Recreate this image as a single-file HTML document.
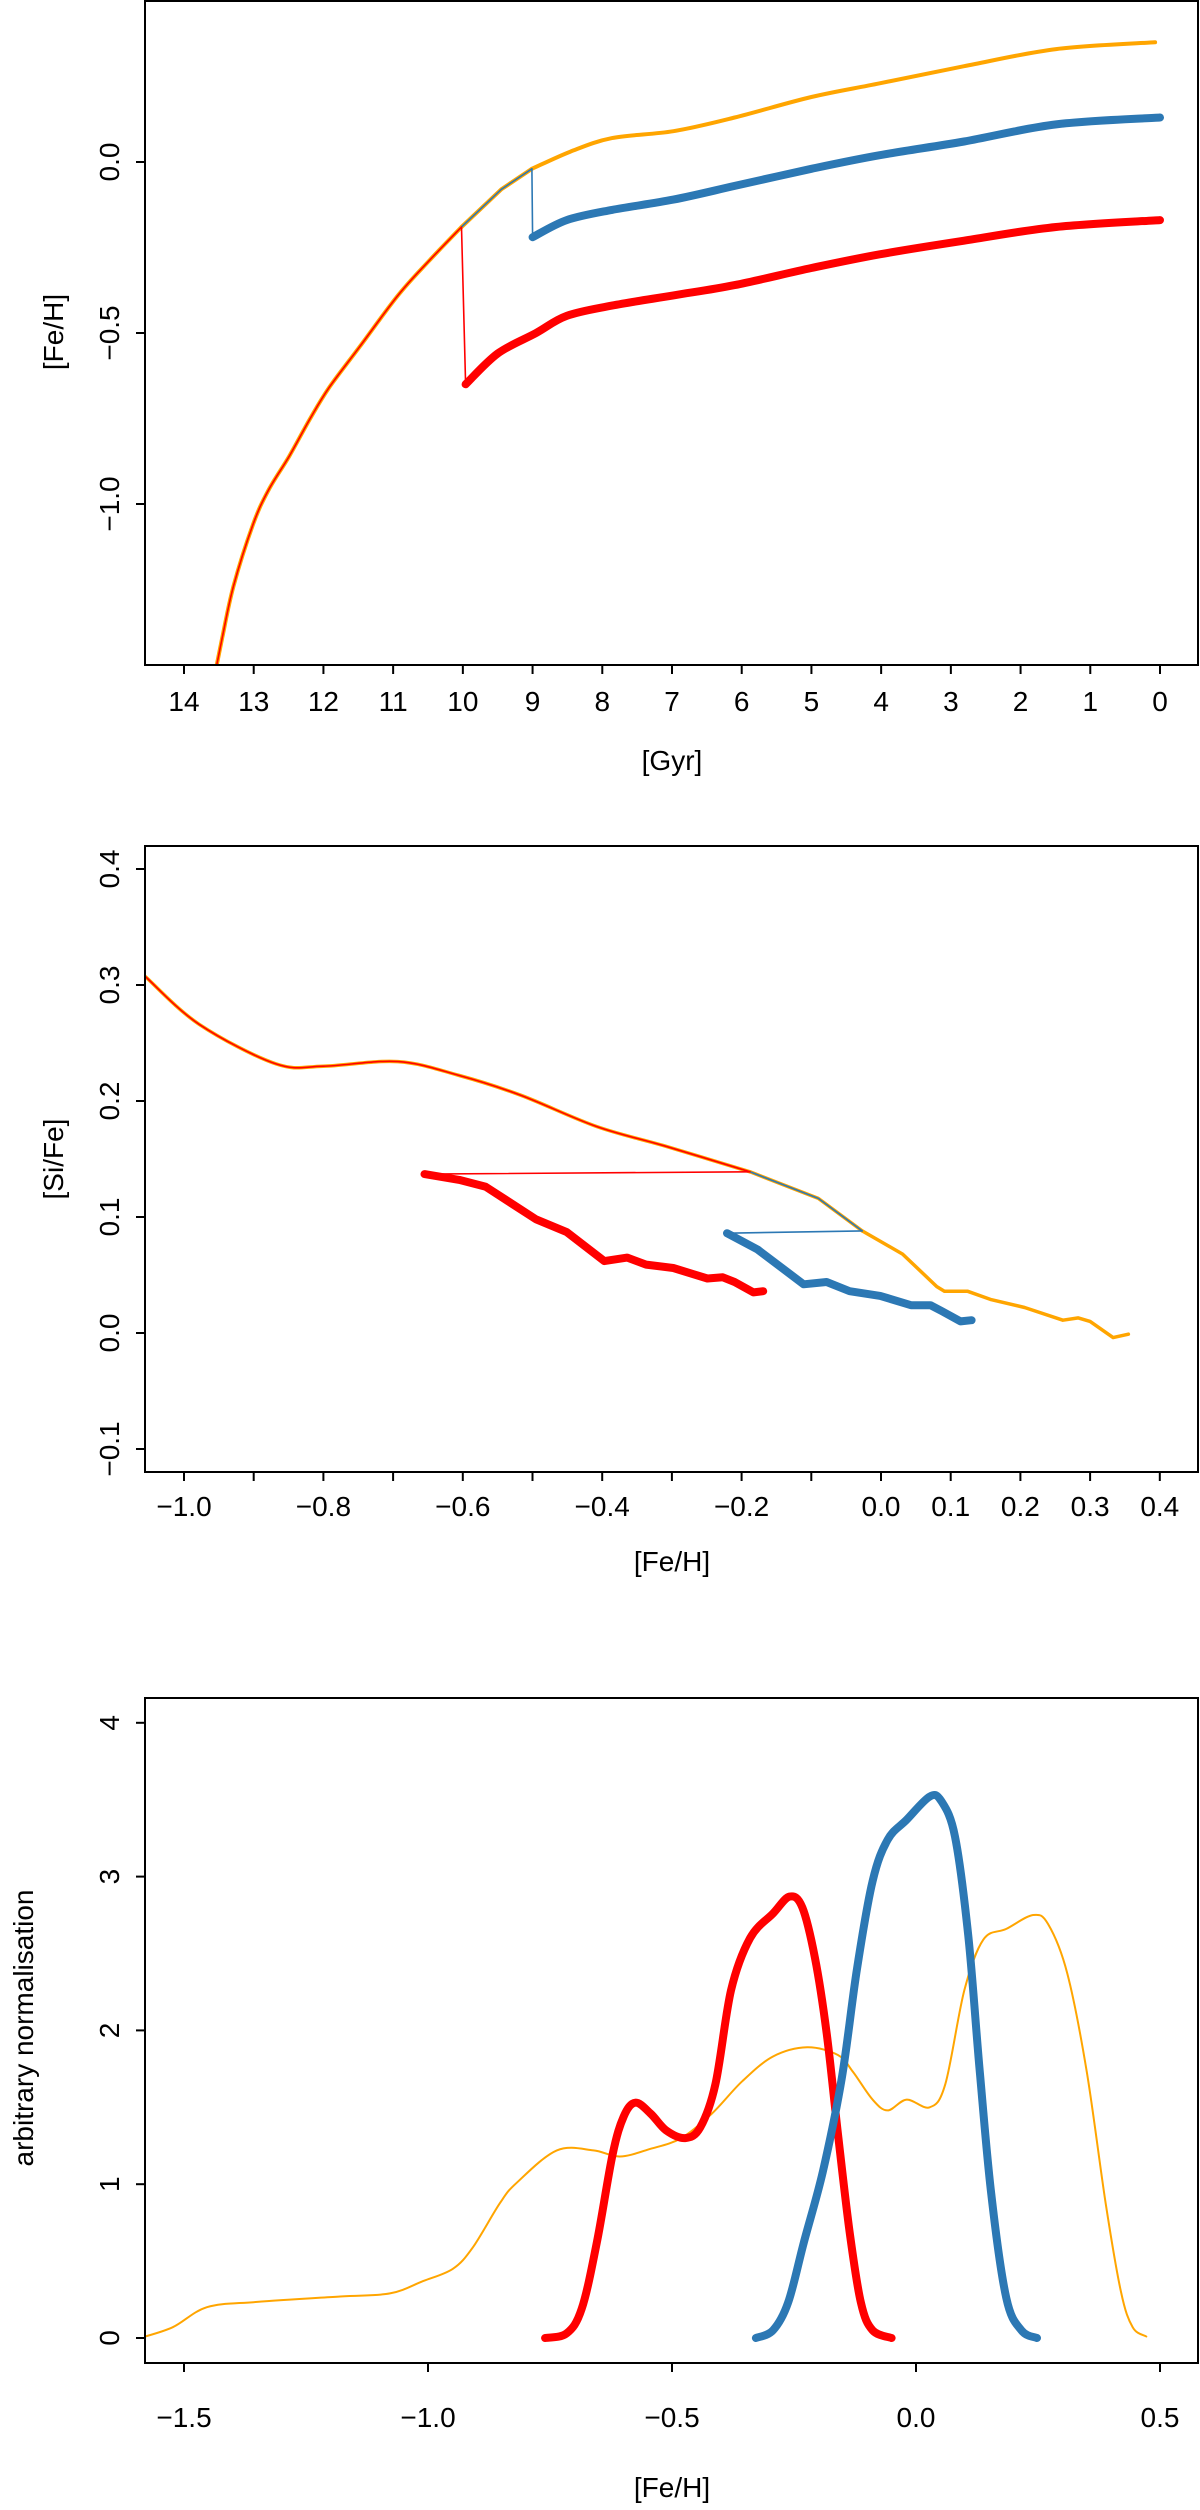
<!DOCTYPE html>
<html><head><meta charset="utf-8">
<style>
html,body{margin:0;padding:0;background:#fff;}
svg{display:block;}
text{font-family:"Liberation Sans",Arial,sans-serif;fill:#000;}
</style></head>
<body>
<svg id="fig" width="1200" height="2510" viewBox="0 0 1200 2510" xmlns="http://www.w3.org/2000/svg"></svg>
<script>
// ---------- Panel 1 data: [Fe/H] vs age [Gyr] ----------
const p1EarlyAge = [13.53,13.45,13.29,13.01,12.79,12.49,12.19,11.92,11.48,10.93,10.49,10.02];
const p1EarlyFe  = [-1.47,-1.39,-1.24,-1.06,-0.96,-0.86,-0.75,-0.66,-0.54,-0.39,-0.29,-0.19];
const p1MidAge = [10.02,9.45,9.01];
const p1MidFe  = [-0.19,-0.08,-0.02];
const p1OrangeAge = [9.01,8.46,7.86,6.98,6.1,5.0,4.02,2.81,1.49,0.07];
const p1OrangeFe  = [-0.02,0.03,0.07,0.09,0.13,0.19,0.23,0.28,0.33,0.35];
const p1BlueAge = [9.0,8.51,7.86,6.98,6.1,5.0,4.02,2.81,1.49,0.0];
const p1BlueFe  = [-0.22,-0.17,-0.14,-0.11,-0.07,-0.02,0.02,0.06,0.11,0.13];
const p1RedAge = [9.96,9.5,8.95,8.51,7.86,6.98,6.1,5.0,4.02,2.81,1.49,0.0];
const p1RedFe  = [-0.65,-0.56,-0.50,-0.45,-0.42,-0.39,-0.36,-0.31,-0.27,-0.23,-0.19,-0.17];
const p1XTicks = [14,13,12,11,10,9,8,7,6,5,4,3,2,1,0];
const p1YTicks = [0.0,-0.5,-1.0];
const p1YLabels = ["0.0","\u22120.5","\u22121.0"];

// ---------- Panel 2 data: [Si/Fe] vs [Fe/H] ----------
const p2EarlyFe = [-1.055,-0.978,-0.868,-0.80,-0.693,-0.605,-0.517,-0.408,-0.309,-0.188];
const p2EarlySi = [0.307,0.266,0.232,0.230,0.234,0.222,0.205,0.178,0.161,0.139];
const p2MidFe = [-0.188,-0.09,-0.027];
const p2MidSi = [0.139,0.116,0.088];
const p2OrangeFe = [-0.027,0.031,0.08,0.091,0.124,0.157,0.206,0.261,0.283,0.30,0.333,0.355];
const p2OrangeSi = [0.088,0.068,0.040,0.036,0.036,0.029,0.022,0.011,0.013,0.010,-0.004,-0.001];
const p2RedFe = [-0.655,-0.605,-0.567,-0.495,-0.451,-0.397,-0.364,-0.337,-0.298,-0.249,-0.227,-0.210,-0.183,-0.169];
const p2RedSi = [0.137,0.132,0.126,0.098,0.087,0.062,0.065,0.059,0.056,0.047,0.048,0.044,0.035,0.036];
const p2BlueFe = [-0.221,-0.177,-0.111,-0.078,-0.045,-0.001,0.043,0.071,0.087,0.114,0.13];
const p2BlueSi = [0.086,0.072,0.042,0.044,0.036,0.032,0.024,0.024,0.019,0.010,0.011];
const p2XTicks = [-1.0,-0.9,-0.8,-0.7,-0.6,-0.5,-0.4,-0.3,-0.2,-0.1,0.0,0.1,0.2,0.3,0.4];
const p2XLabVals = [-1.0,-0.8,-0.6,-0.4,-0.2,0.0,0.1,0.2,0.3,0.4];
const p2XLabels = ["\u22121.0","\u22120.8","\u22120.6","\u22120.4","\u22120.2","0.0","0.1","0.2","0.3","0.4"];
const p2YTicks = [0.4,0.3,0.2,0.1,0.0,-0.1];
const p2YLabels = ["0.4","0.3","0.2","0.1","0.0","\u22120.1"];

// ---------- Panel 3 data: distributions ----------
const p3OrangeFe = [-1.59,-1.523,-1.453,-1.35,-1.18,-1.078,-1.01,-0.949,-0.908,-0.852,-0.818,-0.736,-0.661,-0.607,-0.544,-0.481,-0.418,-0.356,-0.293,-0.223,-0.16,-0.129,-0.089,-0.058,-0.019,0.028,0.06,0.099,0.138,0.185,0.24,0.271,0.31,0.35,0.389,0.42,0.444,0.472];
const p3OrangeN  = [0,0.07,0.20,0.235,0.27,0.29,0.37,0.45,0.59,0.88,1.01,1.22,1.22,1.18,1.23,1.30,1.46,1.67,1.83,1.89,1.84,1.73,1.55,1.48,1.55,1.50,1.65,2.26,2.59,2.66,2.75,2.69,2.37,1.73,0.87,0.30,0.07,0.01];
const p3RedFe = [-0.76,-0.716,-0.685,-0.654,-0.622,-0.599,-0.575,-0.544,-0.512,-0.473,-0.442,-0.411,-0.379,-0.34,-0.293,-0.259,-0.233,-0.207,-0.183,-0.16,-0.136,-0.113,-0.089,-0.05];
const p3RedN  = [0,0.03,0.19,0.62,1.19,1.44,1.53,1.46,1.35,1.30,1.37,1.65,2.26,2.60,2.76,2.87,2.80,2.47,1.98,1.33,0.69,0.23,0.05,0];
const p3BlueFe = [-0.328,-0.293,-0.262,-0.23,-0.191,-0.152,-0.121,-0.089,-0.058,-0.019,0.028,0.052,0.08,0.107,0.13,0.154,0.185,0.216,0.248];
const p3BlueN  = [0,0.05,0.23,0.62,1.08,1.69,2.40,2.97,3.24,3.37,3.52,3.49,3.26,2.62,1.76,0.94,0.26,0.05,0];
const p3XTicks = [-1.5,-1.0,-0.5,0.0,0.5];
const p3XLabels = ["\u22121.5","\u22121.0","\u22120.5","0.0","0.5"];
const p3YTicks = [0,1,2,3,4];

const NS="http://www.w3.org/2000/svg";
const svg=document.getElementById('fig');
const ORANGE="#FFA500", RED="#FF0000", BLUE="#2C78B4";

function mk(tag,attrs,parent){const e=document.createElementNS(NS,tag);for(const k in attrs)e.setAttribute(k,attrs[k]);(parent||svg).appendChild(e);return e;}

function pathD(xs,ys,sx,sy,smooth){
  const P=xs.map((x,i)=>[sx(x),sy(ys[i])]);
  if(!smooth||P.length<3){return "M"+P.map(p=>p[0].toFixed(1)+","+p[1].toFixed(1)).join(" L");}
  let d="M"+P[0][0].toFixed(1)+","+P[0][1].toFixed(1);
  for(let i=0;i<P.length-1;i++){
    const p0=P[i-1]||P[i],p1=P[i],p2=P[i+1],p3=P[i+2]||P[i+1];
    const c1=[p1[0]+(p2[0]-p0[0])/6,p1[1]+(p2[1]-p0[1])/6];
    const c2=[p2[0]-(p3[0]-p1[0])/6,p2[1]-(p3[1]-p1[1])/6];
    d+=" C"+c1[0].toFixed(1)+","+c1[1].toFixed(1)+" "+c2[0].toFixed(1)+","+c2[1].toFixed(1)+" "+p2[0].toFixed(1)+","+p2[1].toFixed(1);
  }
  return d;
}
function line(g,name,xs,ys,sx,sy,color,w,smooth){
  const p=mk('path',{d:pathD(xs,ys,sx,sy,smooth),fill:"none",stroke:color,"stroke-width":w,"stroke-linejoin":"round","stroke-linecap":"round"},g);
  
  
  return p;
}
function frame(g,L,T,R,B){
  const r=mk('rect',{x:L,y:T,width:R-L,height:B-T,fill:"none",stroke:"#000","stroke-width":2},g);
  
  
}
function xAxis(g,vals,labVals,labels,sx,B,labY,title,titleY){
  vals.forEach(v=>{mk('line',{x1:sx(v),x2:sx(v),y1:B,y2:B+9,stroke:"#000","stroke-width":2},g);});
  labVals.forEach((v,i)=>{const t=mk('text',{x:sx(v),y:labY,"font-size":28,"text-anchor":"middle"},g);t.textContent=labels[i];
    
    });
  const t=mk('text',{x:672,y:titleY,"font-size":28,"text-anchor":"middle"},g);
  t.textContent=title;
  
  
}
function yAxis(g,vals,labels,sy,L,labX,title,titleX,titleY){
  vals.forEach((v,i)=>{mk('line',{x1:L-9,x2:L,y1:sy(v),y2:sy(v),stroke:"#000","stroke-width":2},g);
    const t=mk('text',{x:labX,y:sy(v),"font-size":28,"text-anchor":"middle",transform:`rotate(-90 ${labX} ${sy(v)})`},g);t.textContent=labels[i];
    
    });
  const t=mk('text',{x:titleX,y:titleY,"font-size":28,"text-anchor":"middle",transform:`rotate(-90 ${titleX} ${titleY})`},g);t.textContent=title;
  
  
}

// ===== Panel 1 =====
(function(){
  const g=mk('g',{});  
  const L=145,T=1,R=1198,B=665;
  const sx=v=>1160-(v/14)*976;
  const sy=v=>162-v*342;
  const cp=mk('clipPath',{id:"c1"},g); mk('rect',{x:L,y:T,width:R-L,height:B-T},cp);
  const d=mk('g',{"clip-path":"url(#c1)"},g);
  line(d,'orange-track-early',p1EarlyAge,p1EarlyFe,sx,sy,ORANGE,4,true);
  line(d,'orange-track-mid',p1MidAge,p1MidFe,sx,sy,ORANGE,4,false);
  line(d,'orange-track',p1OrangeAge,p1OrangeFe,sx,sy,ORANGE,4,true);
  line(d,'red-track-early',p1EarlyAge,p1EarlyFe,sx,sy,RED,1.6,true);
  line(d,'blue-track-early',p1MidAge,p1MidFe,sx,sy,BLUE,1.6,false);
  line(d,'red-drop',[p1EarlyAge[p1EarlyAge.length-1],p1RedAge[0]],[p1EarlyFe[p1EarlyFe.length-1],p1RedFe[0]],sx,sy,RED,1.6,false);
  line(d,'blue-drop',[p1MidAge[2],p1BlueAge[0]],[p1MidFe[2],p1BlueFe[0]],sx,sy,BLUE,1.6,false);
  line(d,'blue-track',p1BlueAge,p1BlueFe,sx,sy,BLUE,8,true);
  line(d,'red-track',p1RedAge,p1RedFe,sx,sy,RED,8,true);
  frame(g,L,T,R,B);
  xAxis(g,p1XTicks,p1XTicks,p1XTicks.map(String),sx,B,711,"[Gyr]",770);
  yAxis(g,p1YTicks,p1YLabels,sy,L,119,"[Fe/H]",63,332);
})();

// ===== Panel 2 =====
(function(){
  const g=mk('g',{});  
  const L=145,T=846,R=1198,B=1472;
  const sx=v=>184+(v+1)*697;
  const sy=v=>1333-v*1160;
  const cp=mk('clipPath',{id:"c2"},g); mk('rect',{x:L,y:T,width:R-L,height:B-T},cp);
  const d=mk('g',{"clip-path":"url(#c2)"},g);
  line(d,'orange-track-early',p2EarlyFe,p2EarlySi,sx,sy,ORANGE,3.5,true);
  line(d,'orange-track-mid',p2MidFe,p2MidSi,sx,sy,ORANGE,3.5,false);
  line(d,'orange-track',p2OrangeFe,p2OrangeSi,sx,sy,ORANGE,3.5,false);
  line(d,'red-track-early',p2EarlyFe,p2EarlySi,sx,sy,RED,1.6,true);
  line(d,'blue-track-early',p2MidFe,p2MidSi,sx,sy,BLUE,1.6,false);
  line(d,'red-jump',[p2EarlyFe[p2EarlyFe.length-1],p2RedFe[0]],[p2EarlySi[p2EarlySi.length-1],p2RedSi[0]],sx,sy,RED,1.6,false);
  line(d,'blue-jump',[p2MidFe[2],p2BlueFe[0]],[p2MidSi[2],p2BlueSi[0]],sx,sy,BLUE,1.6,false);
  line(d,'red-track',p2RedFe,p2RedSi,sx,sy,RED,8,false);
  line(d,'blue-track',p2BlueFe,p2BlueSi,sx,sy,BLUE,8,false);
  frame(g,L,T,R,B);
  xAxis(g,p2XTicks,p2XLabVals,p2XLabels,sx,B,1516,"[Fe/H]",1571);
  yAxis(g,p2YTicks,p2YLabels,sy,L,119,"[Si/Fe]",63,1159);
})();

// ===== Panel 3 =====
(function(){
  const g=mk('g',{});  
  const L=145,T=1698,R=1198,B=2363;
  const sx=v=>184+(v+1.5)*488;
  const sy=v=>2338-v*153.8;
  const cp=mk('clipPath',{id:"c3"},g); mk('rect',{x:L,y:T,width:R-L,height:B-T},cp);
  const d=mk('g',{"clip-path":"url(#c3)"},g);
  line(d,'orange-distribution',p3OrangeFe,p3OrangeN,sx,sy,ORANGE,2,true);
  line(d,'red-distribution',p3RedFe,p3RedN,sx,sy,RED,8,true);
  line(d,'blue-distribution',p3BlueFe,p3BlueN,sx,sy,BLUE,8,true);
  frame(g,L,T,R,B);
  xAxis(g,p3XTicks,p3XTicks,p3XLabels,sx,B,2427,"[Fe/H]",2497);
  yAxis(g,p3YTicks,p3YTicks.map(String),sy,L,119,"arbitrary normalisation",33,2028);
})();
</script>
</body></html>
